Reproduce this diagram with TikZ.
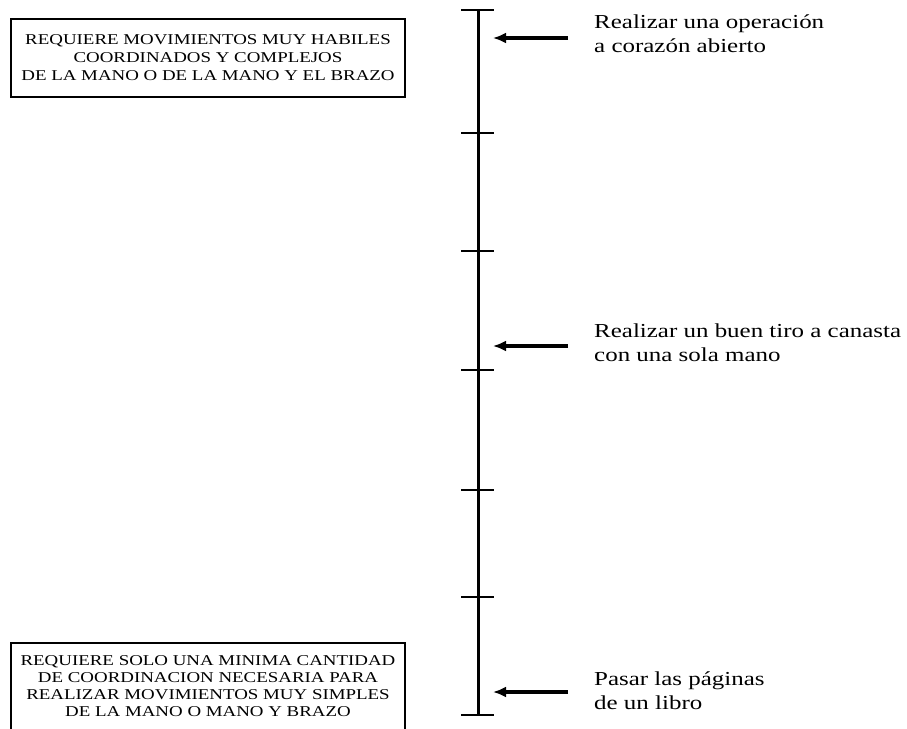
\documentclass[tikz,border=0pt]{standalone}
\usepackage{fontspec}
\setmainfont{Liberation Serif}[FakeStretch=1.26]
\usetikzlibrary{positioning, calc, arrows.meta}

\begin{document}
\begin{tikzpicture}[x=1pt, y=-1pt,
		box/.style={draw, line width=1.1pt, minimum width=394pt, align=center, inner sep=0pt, font=\fontsize{15}{18}\selectfont},
		lbl/.style={anchor=north west, align=left, inner sep=0pt, font=\fontsize{19.8}{24}\selectfont},
		arr/.style={-{Latex[length=13pt, width=11pt]}, line width=4pt}]
			\useasboundingbox (0,0) rectangle (907,728);
			% scale
			\coordinate (top) at (478,10);
			\coordinate (bot) at (478,715);
			\draw [line width=3pt] (top) -- (bot);
			\draw [line width=2pt] ($(top)+(-17,0)$) -- ($(top)+(16,0)$);
			\draw [line width=2pt] ($(bot)+(-17,0)$) -- ($(bot)+(16,0)$);
			\foreach \y in {133, 251, 370, 490, 597}
				\draw [line width=1.6pt] (461,\y) -- (494,\y);
			
			\node (n1) [box, minimum height=78pt] at (208,58) {REQUIERE MOVIMIENTOS MUY HABILES\\COORDINADOS Y COMPLEJOS\\DE LA MANO O DE LA MANO Y EL BRAZO};
			% lower edge falls below the page
			\node (n2) [box, minimum height=96pt, text depth=10pt, font=\fontsize{15}{16.7}\selectfont] at (208,691) {REQUIERE SOLO UNA MINIMA CANTIDAD\\DE COORDINACION NECESARIA PARA\\REALIZAR MOVIMIENTOS MUY SIMPLES\\DE LA MANO O MANO Y BRAZO};
			
			\node (t1) [lbl] at (594,14.5) {Realizar una operación\\a corazón abierto};
			\node (t2) [lbl] at (594,323.5) {Realizar un buen tiro a canasta\\con una sola mano};
			\node (t3) [lbl] at (594,671.5) {Pasar las páginas\\de un libro};
			
			\coordinate (p1) at (493,38);
			\coordinate (p2) at (493,346);
			\coordinate (p3) at (493,692);
			\draw [arr] (p1 -| {$(t1.west)+(-26,0)$}) -- (p1);
			\draw [arr] (p2 -| {$(t2.west)+(-26,0)$}) -- (p2);
			\draw [arr] (p3 -| {$(t3.west)+(-26,0)$}) -- (p3);
		\end{tikzpicture}
\end{document}
